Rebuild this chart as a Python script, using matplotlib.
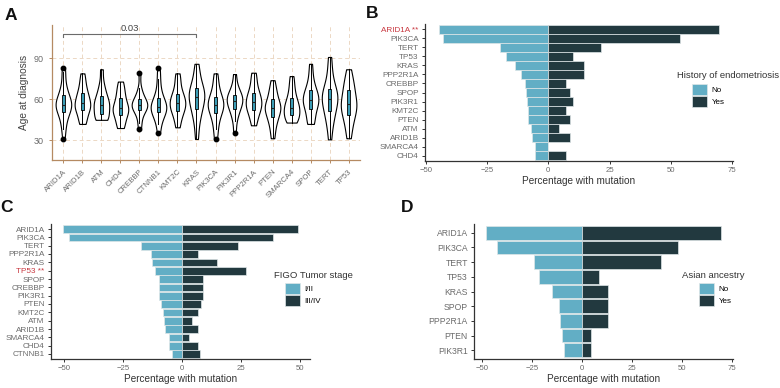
import numpy as np
import matplotlib
matplotlib.use("Agg")
import matplotlib.pyplot as plt

# ---- panel A: age at diagnosis per mutated gene
genes_a = ["ARID1A", "ARID1B", "ATM", "CHD4", "CREBBP", "CTNNB1", "KMT2C", "KRAS",
           "PIK3CA", "PIK3R1", "PPP2R1A", "PTEN", "SMARCA4", "SPOP", "TERT", "TP53"]
ages = [
    [31, 38, 42, 46, 49, 51, 52, 54, 55, 56, 56, 57, 58, 59, 61, 63, 65, 68, 72, 80, 83],
    [42, 44, 47, 51, 53, 54, 55, 56, 58, 60, 62, 64, 66, 70, 74, 79],
    [45, 45, 46, 48, 50, 53, 55, 56, 57, 59, 61, 64, 67, 72, 82],
    [39, 41, 45, 48, 50, 52, 53, 54, 56, 59, 62, 65, 69, 73],
    [38, 43, 48, 51, 53, 54, 55, 55, 56, 57, 58, 60, 61, 64, 68, 79],
    [35, 42, 46, 49, 51, 52, 53, 54, 55, 57, 58, 60, 63, 68, 75, 83],
    [39.5, 44, 48, 51, 52, 54, 56, 57, 58, 60, 62, 63, 66, 70, 75, 79],
    [31, 40, 46, 50, 53, 55, 58, 60, 62, 63, 65, 67, 68, 71, 75, 80, 86],
    [31, 38, 43, 47, 50, 52, 54, 55, 56, 57, 59, 61, 62, 65, 69, 74, 79],
    [35, 44, 49, 52, 54, 56, 58, 59, 60, 62, 63, 64, 67, 71, 78.5],
    [41, 45, 49, 52, 53, 55, 57, 58, 60, 62, 64, 66, 70, 75, 79.5],
    [31.5, 38, 43, 46, 48, 51, 53, 54, 55, 56, 58, 62, 65, 68, 74],
    [43, 44, 46, 48, 50, 52, 53, 55, 57, 59, 62, 66, 71, 77],
    [42, 43, 47, 51, 54, 56, 58, 59, 60, 62, 64, 66, 68, 72, 78, 86],
    [30.7, 40, 45, 49, 52, 55, 58, 60, 61, 63, 65, 67, 70, 75, 82, 91],
    [31.5, 38, 43, 47, 49, 52, 55, 56, 57, 60, 63, 66, 69, 72, 76, 82],
]
pval_pair = ("ARID1A", "KRAS")
pval_text = "0.03"

# ---- panel B: history of endometriosis
genes_b = ["ARID1A", "PIK3CA", "TERT", "TP53", "KRAS", "PPP2R1A", "CREBBP", "SPOP",
           "PIK3R1", "KMT2C", "PTEN", "ATM", "ARID1B", "SMARCA4", "CHD4"]
b_no = [44.6, 43.0, 19.6, 17.3, 13.6, 11.1, 9.6, 9.2, 8.8, 8.1, 8.1, 7.1, 6.5, 5.5, 5.5]
b_yes = [69.6, 53.7, 21.6, 10.1, 14.6, 14.6, 7.3, 8.7, 10.1, 7.3, 8.7, 4.5, 8.7, 0.0, 7.3]

# ---- panel C: FIGO tumor stage
genes_c = ["ARID1A", "PIK3CA", "TERT", "PPP2R1A", "KRAS", "TP53", "SPOP", "CREBBP",
           "PIK3R1", "PTEN", "KMT2C", "ATM", "ARID1B", "SMARCA4", "CHD4", "CTNNB1"]
c_early = [50.4, 47.6, 17.3, 13.1, 12.8, 11.4, 9.6, 9.6, 9.6, 8.9, 8.2, 7.7, 7.0, 5.6, 5.6, 4.2]
c_late = [49.2, 38.6, 23.8, 6.6, 14.8, 27.0, 9.0, 9.0, 9.0, 8.2, 6.6, 4.2, 6.6, 3.2, 6.6, 7.5]

# ---- panel D: Asian ancestry
genes_d = ["ARID1A", "PIK3CA", "TERT", "TP53", "KRAS", "SPOP", "PPP2R1A", "PTEN", "PIK3R1"]
d_no = [48.2, 42.4, 24.1, 21.6, 15.1, 11.4, 10.9, 10.2, 9.0]
d_yes = [69.8, 48.1, 39.4, 8.7, 13.2, 13.2, 13.2, 4.4, 4.4]

LIGHT, DARK = "#62aec5", "#22393f"
RED = "#c8373f"
TICKC = "#6b6b6b"
BROWN = "#b58a62"
TICKFONT = "Liberation Sans"
TITLEFONT = "Liberation Sans"

fig = plt.figure(figsize=(7.8, 3.88), dpi=100)
W, H = 780, 388


def rect(l, t, r, b):
    return [l / W, 1 - b / H, (r - l) / W, (b - t) / H]


# ================= A: violins
axA = fig.add_axes(rect(52, 25, 360, 160))
pos = np.arange(len(genes_a))
axA.grid(True, ls=(0, (4, 3)), color="#ecd8c4", lw=0.7)
axA.set_axisbelow(True)
vp = axA.violinplot(ages, positions=pos, widths=0.82, showextrema=False, bw_method=0.45)
for body in vp["bodies"]:
    body.set_facecolor("white")
    body.set_edgecolor("black")
    body.set_linewidth(0.8)
    body.set_alpha(1)
axA.boxplot(ages, positions=pos, widths=0.16, patch_artist=True,
            boxprops=dict(facecolor="#3b9db6", edgecolor="black", lw=0.6),
            medianprops=dict(color="#222222", lw=0.8),
            whiskerprops=dict(color="black", lw=0.7), capprops=dict(lw=0),
            flierprops=dict(marker="o", mfc="black", mec="black", ms=3.2))
i0, i1 = genes_a.index(pval_pair[0]), genes_a.index(pval_pair[1])
axA.plot([i0, i0, i1, i1], [105.5, 107.6, 107.6, 105.5], color="#6b6b6b", lw=0.8)
axA.text((i0 + i1) / 2, 108.6, pval_text, ha="center", va="bottom", fontsize=6.8,
         color="#444444", family=TICKFONT)
axA.set_xlim(-0.6, len(genes_a) - 0.4)
axA.set_ylim(15.6, 114.4)
axA.set_yticks([30, 60, 90])
axA.set_xticks(pos)
axA.set_xticklabels(genes_a, rotation=45, ha="right", rotation_mode="anchor")
axA.tick_params(colors=BROWN, labelcolor=TICKC, labelsize=5.6, length=2.5, width=0.7)
axA.tick_params(axis="y", labelsize=6.5)
for lab in axA.get_xticklabels() + axA.get_yticklabels():
    lab.set_family(TICKFONT)
for s in ["top", "right"]:
    axA.spines[s].set_visible(False)
for s in ["left", "bottom"]:
    axA.spines[s].set_color(BROWN)
    axA.spines[s].set_linewidth(0.9)
axA.set_ylabel("Age at diagnosis", fontsize=7.3, color="#444444", family=TICKFONT, labelpad=3)


# ================= B, C, D: back-to-back bars
def pyramid(box, genes, left, right, names, title, tleft, red_gene, leg_x, leg_y, tsize):
    ax = fig.add_axes(rect(*box))
    y = np.arange(len(genes))[::-1]
    b1 = ax.barh(y, -np.asarray(left), height=0.92, color=LIGHT, edgecolor="#dfe6e8", lw=0.5)
    b2 = ax.barh(y, right, height=0.92, color=DARK, edgecolor="#dfe6e8", lw=0.5)
    lo = -max(left)
    hi = max(right)
    pad = (hi - lo) * 0.05
    ax.set_xlim(lo - pad, hi + pad)
    ax.set_ylim(-0.6, len(genes) - 0.4)
    ax.set_yticks(y)
    labels = [g + " **" if g == red_gene else g for g in genes]
    ax.set_yticklabels(labels)
    ticks = [t for t in [-50, -25, 0, 25, 50, 75] if lo - pad <= t <= hi + pad]
    ax.set_xticks(ticks)
    ax.set_xticklabels([str(t).replace("-", "\u2212") for t in ticks])
    ax.tick_params(colors="#333333", labelcolor=TICKC, labelsize=5.6, length=2.5, width=0.7,
                   pad=2)
    ax.tick_params(axis="y", labelsize=tsize)
    for lab in ax.get_yticklabels():
        lab.set_family(TICKFONT)
        if lab.get_text().endswith("**"):
            lab.set_color(RED)
    for lab in ax.get_xticklabels():
        lab.set_family(TICKFONT)
    for s in ["top", "right"]:
        ax.spines[s].set_visible(False)
    for s in ["left", "bottom"]:
        ax.spines[s].set_color("#333333")
        ax.spines[s].set_linewidth(0.9)
    ax.set_xlabel("Percentage with mutation", fontsize=7.2, color="#333333",
                  family=TITLEFONT, labelpad=1.5)
    fig.text(tleft / W, 1 - leg_y / H, title, fontsize=6.8, color="#333333",
             family=TITLEFONT, ha="left", va="center")
    ax.legend([b1, b2], names, loc="upper left",
              bbox_to_anchor=(leg_x / W, 1 - (leg_y + 8) / H),
              bbox_transform=fig.transFigure, frameon=False,
              handlelength=1.85, handleheight=1.75, labelspacing=0.12,
              handletextpad=0.6, borderpad=0, borderaxespad=0,
              prop=dict(family=TITLEFONT, size=5.8))
    return ax


pyramid((425, 24, 733, 161), genes_b, b_no, b_yes, ["No", "Yes"],
        "History of endometriosis", 677, "ARID1A", 692, 76, 5.9)
pyramid((51, 224, 310, 359), genes_c, c_early, c_late, ["I/II", "III/IV"],
        "FIGO Tumor stage", 274, "TP53", 285, 275, 5.9)
pyramid((474, 224, 733, 359), genes_d, d_no, d_yes, ["No", "Yes"],
        "Asian ancestry", 682, None, 699, 275, 6.2)

for lab, x, y in [("A", 11, 15), ("B", 372, 13), ("C", 7, 207), ("D", 407, 207)]:
    fig.text(x / W, 1 - y / H, lab, fontsize=12.5, fontweight="bold", ha="center",
             va="center", family="Liberation Sans", color="#111111")

fig.savefig("out.png", dpi=100)
